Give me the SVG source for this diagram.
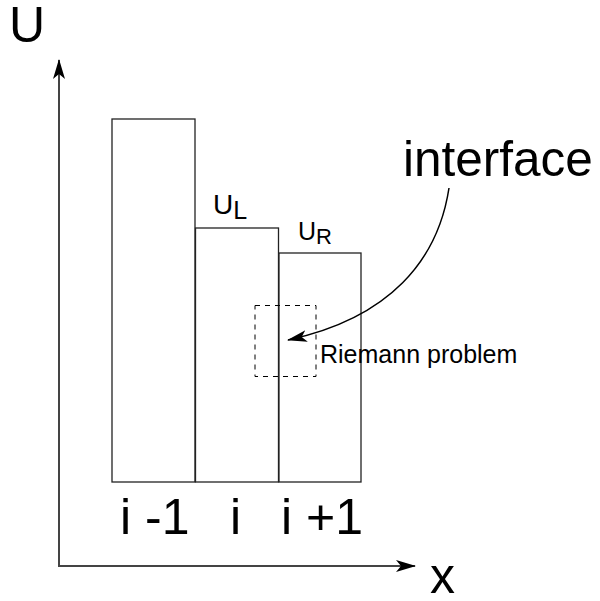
<svg xmlns="http://www.w3.org/2000/svg" width="600" height="601" viewBox="0 0 600 601">
<style>
.cell{fill:#fff;stroke:#222;stroke-width:1.3}
.axis{stroke:#444;stroke-width:2;fill:none}
.lbl{font-family:"Liberation Sans",Arial,sans-serif;fill:#000}
</style>
<defs>
<marker id="ah" viewBox="0 0 20 12" refX="19" refY="6" markerWidth="20" markerHeight="12" markerUnits="userSpaceOnUse" orient="auto">
<path d="M0,0 L20,6 L0,12 L5,6 Z" fill="#000"/>
</marker>
</defs>
<rect width="600" height="601" fill="#fff"/>
<g id="axes">
<line class="axis" x1="59" y1="566" x2="59" y2="60" marker-end="url(#ah)"/>
<line class="axis" x1="58" y1="566" x2="415" y2="566" marker-end="url(#ah)"/>
<text class="lbl" x="9" y="42" font-size="50">U</text>
<text class="lbl" x="430" y="593" font-size="50">x</text>
</g>
<g id="cell-im1">
<rect class="cell" x="112" y="119" width="83" height="363"/>
<text class="lbl" x="120" y="534" font-size="50">i -1</text>
</g>
<g id="cell-i">
<rect class="cell" x="195.5" y="228" width="83" height="254"/>
<text class="lbl" x="230" y="534" font-size="50">i</text>
<text class="lbl" x="213" y="214" font-size="28">U<tspan font-size="25" dy="5">L</tspan></text>
</g>
<g id="cell-ip1">
<rect class="cell" x="279" y="253" width="82" height="229"/>
<text class="lbl" x="281" y="534" font-size="50">i +1</text>
<text class="lbl" x="298" y="240" font-size="25">U<tspan font-size="22" dy="4">R</tspan></text>
</g>
<g id="riemann">
<rect x="255" y="305.5" width="61" height="71" fill="none" stroke="#000" stroke-width="1" stroke-dasharray="5,5"/>
<text class="lbl" x="320" y="363" font-size="25">Riemann problem</text>
</g>
<g id="interface">
<text class="lbl" x="403" y="176" font-size="49.5">interface</text>
</g>
<g id="connectors">
<path d="M449,188 C438,260 390,318 288,340" fill="none" stroke="#000" stroke-width="1.5" marker-end="url(#ah)"/>
</g>
</svg>
